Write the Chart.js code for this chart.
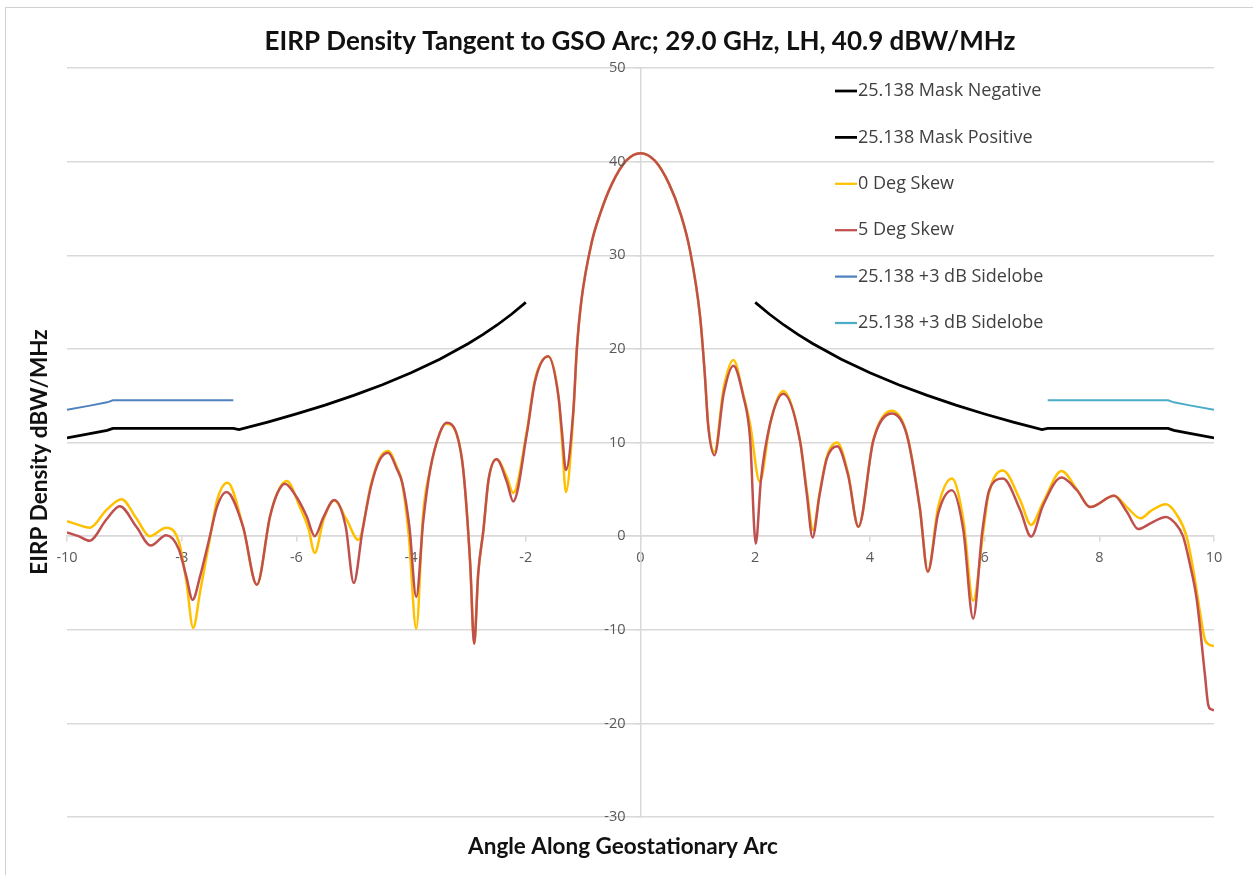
<!DOCTYPE html>
<html>
<head>
<meta charset="utf-8">
<script src="https://cdn.jsdelivr.net/npm/chart.js@4.4.1/dist/chart.umd.min.js"></script>
<style>
  html, body { margin: 0; padding: 0; background: #fff; }
  #wrap { position: relative; width: 1253px; height: 875px; overflow: hidden; }
  #frame { position: absolute; left: 5px; top: 7px; right: -2px; bottom: -2px;
           border-left: 1px solid #d0d0d0; border-top: 1px solid #d0d0d0; }
  canvas { position: absolute; left: 0; top: 0; }
</style>
</head>
<body>
<div id="wrap">
  <div id="frame"></div>
  <canvas id="chart" width="1253" height="875"></canvas>
</div>
<script>
// Axis ticks
const xTicks = [-10, -8, -6, -4, -2, 0, 2, 4, 6, 8, 10];
const yTicks = [-30, -20, -10, 0, 10, 20, 30, 40, 50];

// 0 deg skew pattern (angle in deg, EIRP density in dBW/MHz)
const skew0Angles = [
  -10.0, -9.8, -9.6, -9.31, -9.05, -8.79, -8.56, -8.27, -8.05, -7.92, -7.80, -7.68, -7.51, -7.38, -7.20,
  -6.93, -6.69, -6.46, -6.32, -6.17, -5.94, -5.79, -5.68, -5.53, -5.34, -5.12, -4.92, -4.70, -4.55, -4.40,
  -4.25, -4.16, -4.04, -3.91, -3.79, -3.67, -3.50, -3.39, -3.20, -3.09, -2.97, -2.90, -2.83, -2.74, -2.65,
  -2.51, -2.33, -2.22, -1.98, -1.84, -1.61, -1.43, -1.37, -1.30, -1.17, -1.11, -1.03, -0.85, -0.70, -0.50,
  -0.25, 0.0, 0.25, 0.50, 0.70, 0.86, 1.04, 1.12, 1.18, 1.29, 1.45, 1.62, 1.79, 1.91, 2.08,
  2.26, 2.49, 2.78, 2.90, 3.01, 3.12, 3.25, 3.43, 3.62, 3.80, 4.06, 4.38, 4.64, 4.87, 5.01,
  5.19, 5.43, 5.63, 5.80, 5.98, 6.06, 6.32, 6.62, 6.81, 7.02, 7.34, 7.61, 7.84, 8.26, 8.48,
  8.72, 8.90, 9.16, 9.35, 9.52, 9.65, 9.76, 9.84, 9.92, 10.0
];
const skew0Eirp = [
  1.6, 1.2, 0.9, 2.8, 3.95, 1.9, 0.0, 0.9, -0.6, -4.8, -9.8, -6.0, -0.3, 3.9, 5.7,
  1.0, -5.2, 2.1, 4.8, 5.9, 3.1, 0.8, -1.8, 1.7, 3.8, 1.7, -0.4, 5.5, 8.3, 9.1,
  7.4, 5.8, 0.0, -9.9, 2.4, 7.05, 11.0, 12.0, 10.8, 7.05, -2.9, -11.5, -4.0, 0.6, 6.0,
  8.2, 6.3, 4.6, 11.3, 16.7, 19.2, 14.9, 10.3, 4.7, 13.1, 20.0, 25.2, 31.4, 34.5, 37.6,
  40.1, 40.9, 40.1, 37.6, 34.4, 30.6, 23.4, 17.4, 12.0, 9.0, 15.8, 18.8, 15.2, 12.0, 5.8,
  12.0, 15.5, 10.3, 4.9, 0.65, 4.5, 8.5, 10.0, 6.7, 1.0, 10.3, 13.4, 11.0, 3.1, -3.8,
  3.1, 6.15, 1.7, -6.9, 0.65, 4.2, 7.0, 3.85, 1.2, 3.6, 6.95, 5.0, 3.1, 4.3, 3.1,
  1.9, 2.7, 3.4, 2.3, 0.0, -4.0, -8.3, -11.0, -11.6, -11.75
];

// 5 deg skew pattern
const skew5Angles = [
  -10.0, -9.8, -9.61, -9.31, -9.08, -8.79, -8.54, -8.27, -8.05, -7.92, -7.81, -7.68, -7.52, -7.38, -7.22,
  -6.93, -6.69, -6.46, -6.33, -6.20, -6.00, -5.82, -5.68, -5.53, -5.34, -5.14, -5.00, -4.85, -4.70, -4.55,
  -4.40, -4.25, -4.15, -4.03, -3.91, -3.79, -3.67, -3.50, -3.38, -3.20, -3.09, -2.97, -2.90, -2.83, -2.74,
  -2.65, -2.51, -2.33, -2.22, -1.98, -1.84, -1.61, -1.43, -1.37, -1.30, -1.17, -1.11, -1.03, -0.85, -0.70,
  -0.50, -0.25, 0.0, 0.25, 0.50, 0.70, 0.86, 1.04, 1.12, 1.18, 1.29, 1.45, 1.62, 1.79, 1.91,
  2.01, 2.10, 2.26, 2.49, 2.78, 2.90, 3.00, 3.12, 3.25, 3.43, 3.62, 3.80, 4.06, 4.38, 4.64,
  4.87, 5.01, 5.19, 5.43, 5.63, 5.80, 5.96, 6.08, 6.32, 6.62, 6.81, 7.02, 7.34, 7.61, 7.84,
  8.26, 8.48, 8.68, 8.90, 9.16, 9.32, 9.46, 9.58, 9.70, 9.84, 9.90, 9.95, 10.0
];
const skew5Eirp = [
  0.4, 0.0, -0.5, 1.8, 3.2, 1.0, -1.0, 0.1, -1.4, -4.3, -6.8, -4.3, -0.3, 3.2, 4.7,
  1.0, -5.2, 2.1, 4.6, 5.6, 4.2, 2.1, 0.0, 2.0, 3.85, 1.0, -5.0, 0.5, 5.3, 8.1,
  8.9, 7.2, 5.6, 1.0, -6.5, 1.5, 7.0, 11.0, 12.1, 10.8, 7.05, -2.9, -11.5, -4.0, 0.6,
  6.0, 8.2, 5.8, 3.7, 11.0, 16.5, 19.2, 14.9, 11.2, 7.05, 13.5, 20.0, 25.2, 31.4, 34.5,
  37.6, 40.1, 40.9, 40.1, 37.6, 34.4, 30.6, 23.4, 17.4, 11.8, 8.65, 15.2, 18.2, 15.0, 10.5,
  -0.8, 6.0, 12.0, 15.2, 10.2, 4.5, -0.15, 4.3, 8.3, 9.6, 6.5, 1.0, 10.2, 13.1, 10.9,
  3.0, -3.8, 2.4, 4.9, 0.6, -8.8, 0.5, 4.9, 6.15, 2.8, -0.05, 3.3, 6.25, 4.9, 3.1,
  4.3, 2.6, 0.75, 1.4, 2.05, 1.4, 0.0, -3.0, -6.8, -14.7, -18.05, -18.5, -18.6
];

// 25.138 off-axis mask, negative side
const maskNegAngles = [-10.0, -9.6, -9.3, -9.2, -7.1, -7.0, -6.5, -6.0, -5.5, -5.0, -4.5, -4.0, -3.5, -3.0, -2.75, -2.5, -2.25, -2.0];
const maskNegValues = [10.5, 10.94, 11.29, 11.5, 11.5, 11.37, 12.18, 13.05, 13.99, 15.03, 16.17, 17.45, 18.9, 20.57, 21.52, 22.55, 23.7, 24.97];
// 25.138 off-axis mask, positive side
const maskPosAngles = [2.0, 2.25, 2.5, 2.75, 3.0, 3.5, 4.0, 4.5, 5.0, 5.5, 6.0, 6.5, 7.0, 7.1, 9.2, 9.3, 9.6, 10.0];
const maskPosValues = [24.97, 23.7, 22.55, 21.52, 20.57, 18.9, 17.45, 16.17, 15.03, 13.99, 13.05, 12.18, 11.37, 11.5, 11.5, 11.29, 10.94, 10.5];

// +3 dB sidelobe allowance
const sideNegAngles = [-10.0, -9.6, -9.3, -9.2, -7.1];
const sideNegValues = [13.5, 13.94, 14.29, 14.5, 14.5];
const sidePosAngles = [7.1, 9.2, 9.3, 9.6, 10.0];
const sidePosValues = [14.5, 14.5, 14.29, 13.94, 13.5];

const seriesNames = ['25.138 Mask Negative', '25.138 Mask Positive', '0 Deg Skew', '5 Deg Skew', '25.138 +3 dB Sidelobe', '25.138 +3 dB Sidelobe'];
const seriesColors = ['#000000', '#000000', '#FFC000', '#C0504D', '#4F81BD', '#4BACC6'];

const pairs = (xs, ys) => xs.map((x, i) => ({ x: x, y: ys[i] }));

const FONT = '"Open Sans", "DejaVu Sans", sans-serif';
const BOLD = 'Lato, "Open Sans", sans-serif';

const textPlugin = {
  id: 'chartText',
  afterDraw(chart) {
    const ctx = chart.ctx;
    const xs = chart.scales.x, ys = chart.scales.y;
    ctx.save();
    // title
    ctx.fillStyle = '#111';
    ctx.textAlign = 'center';
    ctx.textBaseline = 'middle';
    ctx.font = 'bold 26px ' + BOLD;
    ctx.fillText('EIRP Density Tangent to GSO Arc; 29.0 GHz, LH, 40.9 dBW/MHz', 640, 42);
    // axis titles
    ctx.font = 'bold 22.5px ' + BOLD;
    ctx.fillText('Angle Along Geostationary Arc', 623, 847);
    ctx.save();
    ctx.translate(40, 452);
    ctx.rotate(-Math.PI / 2);
    ctx.fillText('EIRP Density dBW/MHz', 0, 0);
    ctx.restore();
    // y tick labels beside the central axis
    ctx.font = '14.5px ' + FONT;
    ctx.fillStyle = '#595959';
    ctx.textAlign = 'right';
    const axisX = xs.getPixelForValue(0);
    yTicks.forEach(v => ctx.fillText(String(v), axisX - 15, ys.getPixelForValue(v)));
    // legend
    ctx.font = '18px ' + FONT;
    ctx.textAlign = 'left';
    seriesNames.forEach((name, i) => {
      const yy = 91 + i * 46.4;
      ctx.strokeStyle = seriesColors[i];
      ctx.lineWidth = i < 2 ? 2.75 : 2.25;
      ctx.beginPath();
      ctx.moveTo(835, yy);
      ctx.lineTo(857, yy);
      ctx.stroke();
      ctx.fillStyle = '#404040';
      ctx.fillText(name, 858, yy);
    });
    ctx.restore();
  }
};

new Chart(document.getElementById('chart'), {
  type: 'scatter',
  data: {
    datasets: [
      { label: seriesNames[0], data: pairs(maskNegAngles, maskNegValues), borderColor: seriesColors[0], borderWidth: 2.75, tension: 0, order: 3 },
      { label: seriesNames[1], data: pairs(maskPosAngles, maskPosValues), borderColor: seriesColors[1], borderWidth: 2.75, tension: 0, order: 3 },
      { label: seriesNames[2], data: pairs(skew0Angles, skew0Eirp), borderColor: seriesColors[2], borderWidth: 2.5, cubicInterpolationMode: 'monotone', order: 2 },
      { label: seriesNames[3], data: pairs(skew5Angles, skew5Eirp), borderColor: seriesColors[3], borderWidth: 2.5, cubicInterpolationMode: 'monotone', order: 1 },
      { label: seriesNames[4], data: pairs(sideNegAngles, sideNegValues), borderColor: seriesColors[4], borderWidth: 2, tension: 0, order: 3 },
      { label: seriesNames[5], data: pairs(sidePosAngles, sidePosValues), borderColor: seriesColors[5], borderWidth: 2, tension: 0, order: 3 }
    ]
  },
  options: {
    responsive: false,
    animation: false,
    showLine: true,
    layout: { padding: { left: 67, right: 39, top: 68, bottom: 58 } },
    elements: { point: { radius: 0, hoverRadius: 0 } },
    plugins: { legend: { display: false }, tooltip: { enabled: false } },
    scales: {
      x: {
        type: 'linear', min: -10, max: 10, position: { y: 0 },
        afterBuildTicks: s => { s.ticks = xTicks.map(v => ({ value: v })); },
        grid: { drawOnChartArea: false, drawTicks: true, tickLength: 5, color: '#d9d9d9', lineWidth: 1.5 },
        border: { display: true, color: '#d9d9d9', width: 1.5 },
        ticks: { color: '#595959', font: { family: FONT, size: 14.5 }, padding: 8, maxRotation: 0, autoSkip: false }
      },
      y: {
        type: 'linear', min: -30, max: 50, position: { x: 0 },
        afterBuildTicks: s => { s.ticks = yTicks.map(v => ({ value: v })); },
        grid: { drawOnChartArea: true, drawTicks: true, tickLength: 5, color: '#d9d9d9', lineWidth: 1.5 },
        border: { display: true, color: '#d9d9d9', width: 1.5 },
        ticks: { display: false }
      }
    }
  },
  plugins: [textPlugin]
});
</script>
</body>
</html>
